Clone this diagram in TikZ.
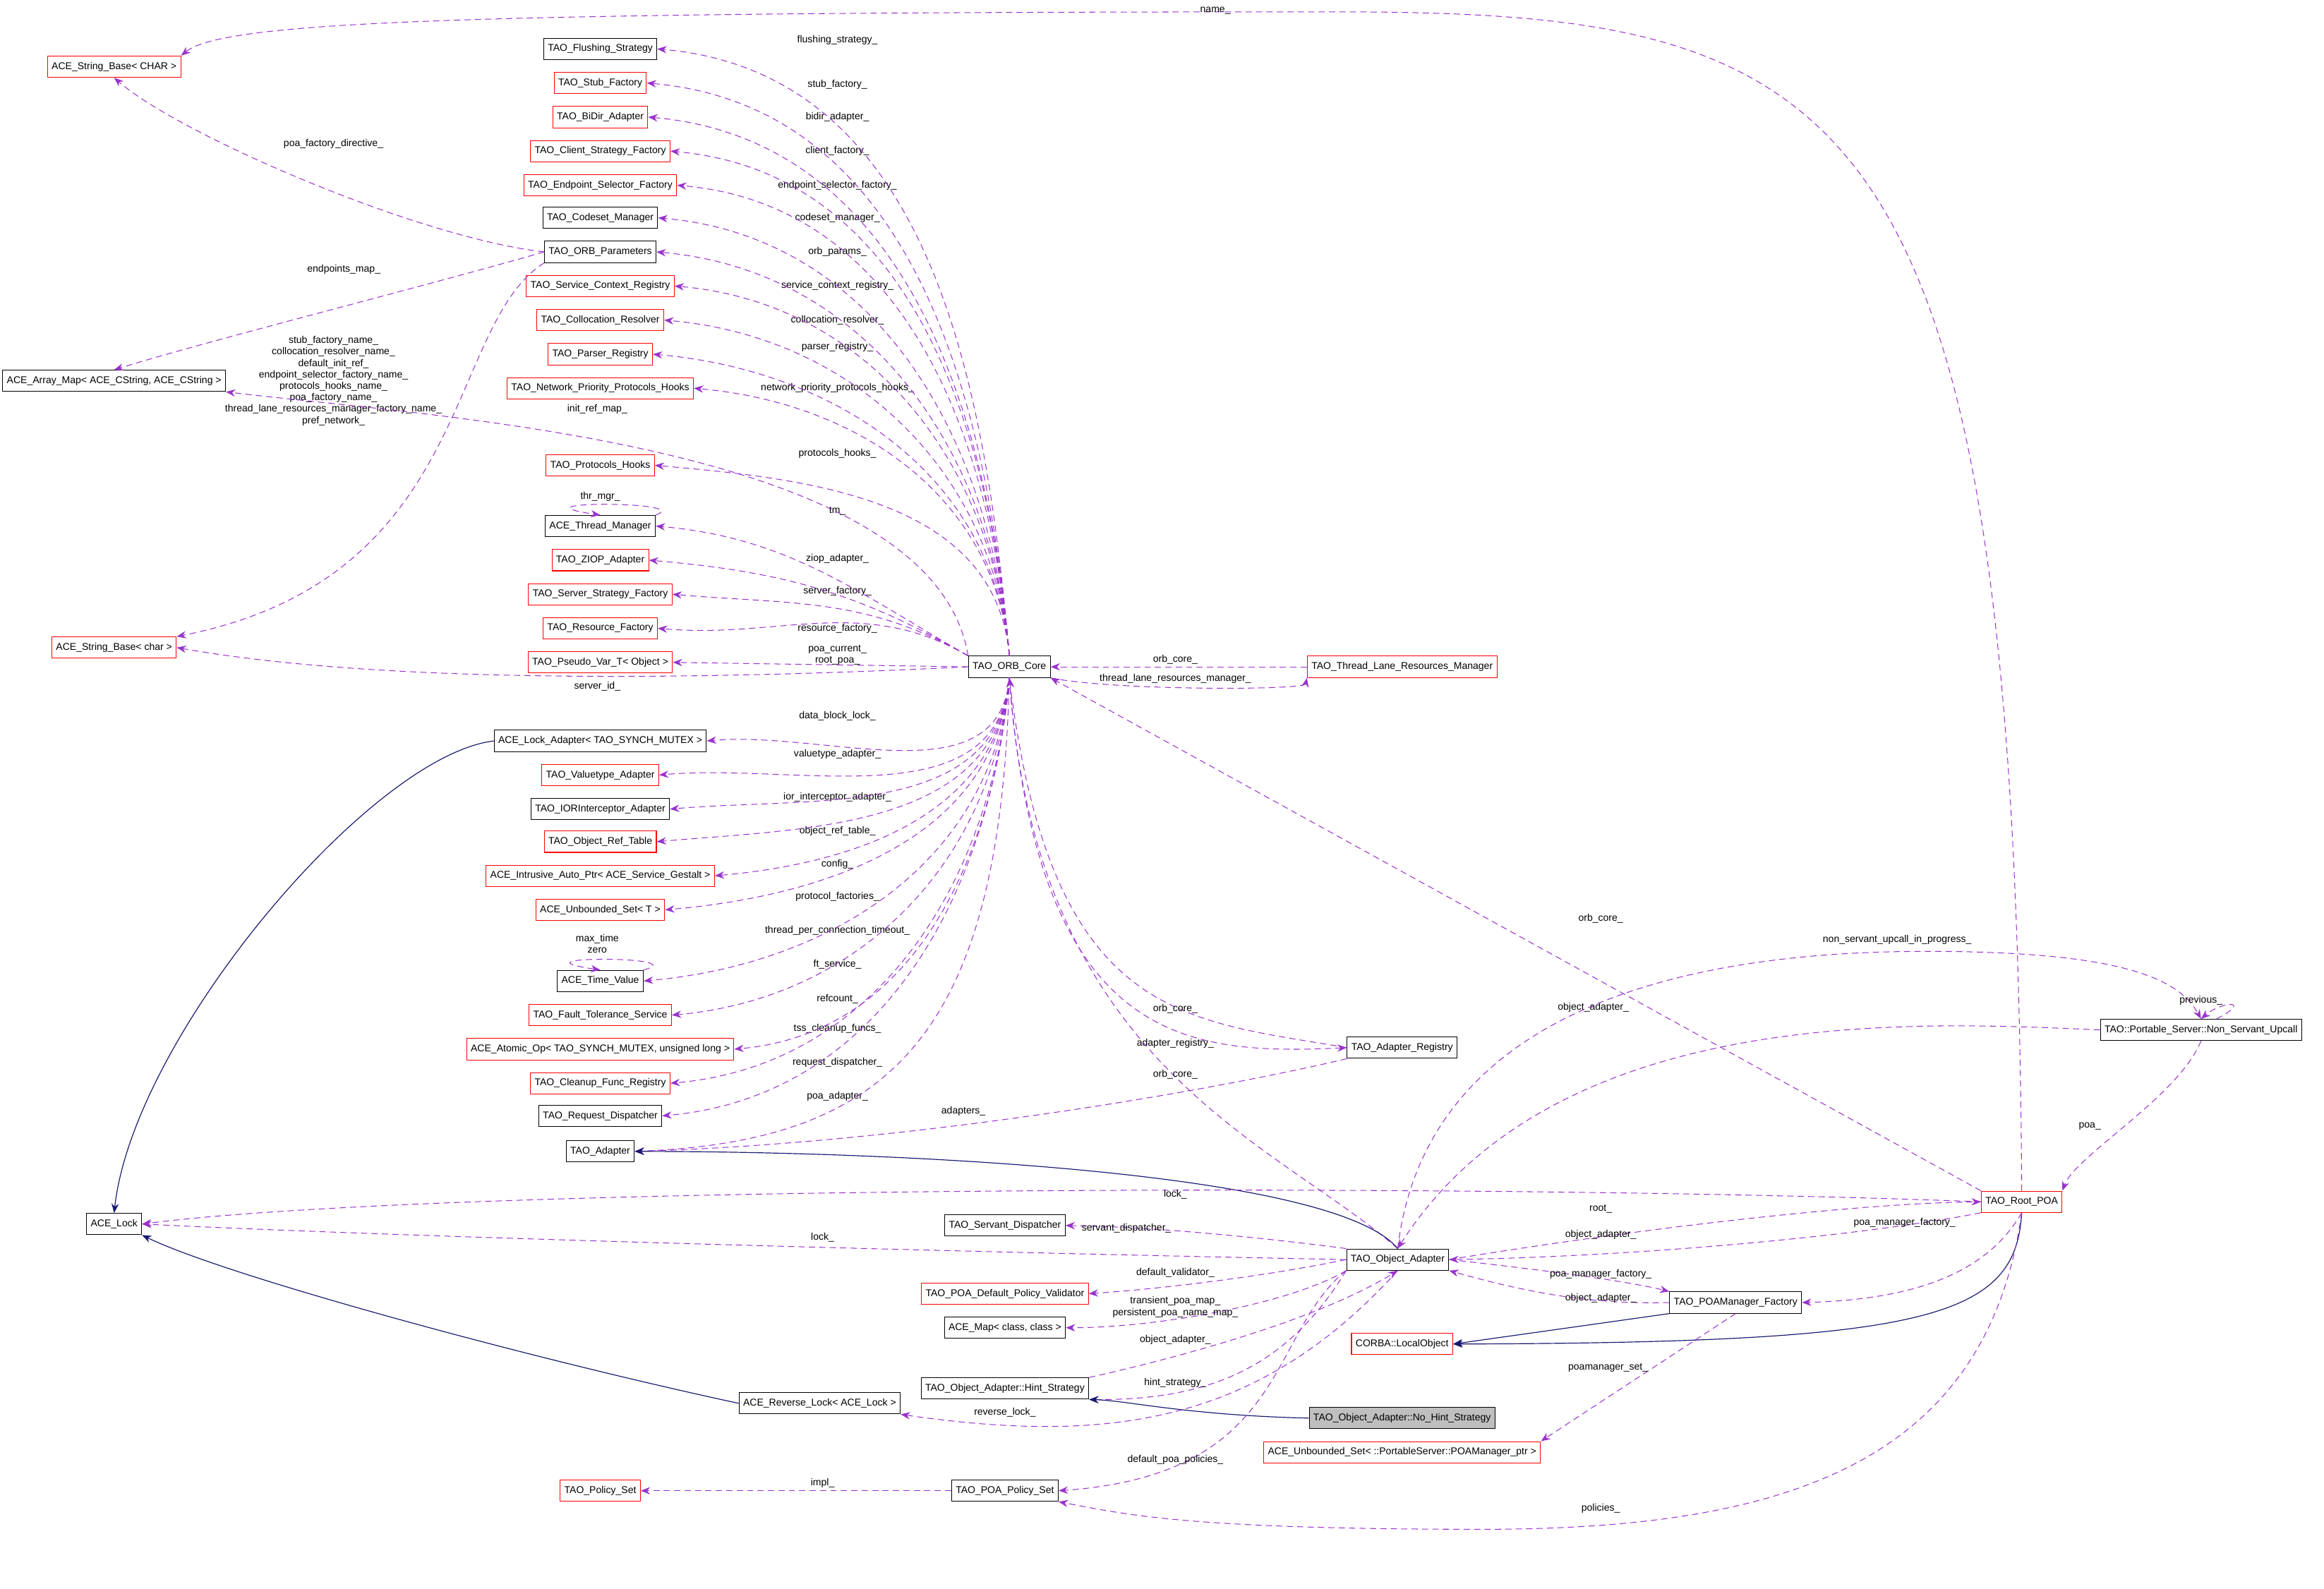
\documentclass[tikz,border=0pt]{standalone}
\usepackage{fontspec}
\setmainfont{Liberation Sans}
\usetikzlibrary{arrows.meta}

\begin{document}
\catcode`\_=12
\begin{tikzpicture}[x=0.05cm, y=-0.05cm, font=\fontsize{9.5}{11}\selectfont]
    % --- Colours and styles ---
    \definecolor{memcol}{RGB}{154,50,205}
    \definecolor{inhcol}{RGB}{25,25,112}
    \tikzset{
        cls/.style={draw=black, line width=0.7pt, inner xsep=4pt, minimum height=0.72cm},
        undoc/.style={cls, draw=red},
        focus/.style={cls, fill=gray!50},
        mem/.style={draw=memcol, line width=0.7pt, dash pattern=on 6pt off 4pt,
            -{Stealth[length=9pt, width=7pt]}, color=memcol},
        inh/.style={draw=inhcol, line width=0.8pt, -{Stealth[length=9pt, width=7pt]}, color=inhcol},
        lbl/.style={align=center, text=black, inner sep=1pt}
    }
    \useasboundingbox (0,0) rectangle (1568,1072.3);

    % =========================================================
    % 1. CENTRAL CLASS AND LEFT COLUMN
    % =========================================================
    \node[cls] (orb) at (681,450) {TAO_ORB_Core};

    \foreach \nm/\st/\y/\txt/\ly/\lb in {
        fs/cls/33/TAO_Flushing_Strategy/27/flushing_strategy_,
        sf/undoc/56/TAO_Stub_Factory/57/stub_factory_,
        bd/undoc/79/TAO_BiDir_Adapter/79/bidir_adapter_,
        csf/undoc/102/TAO_Client_Strategy_Factory/102/client_factory_,
        esf/undoc/125/TAO_Endpoint_Selector_Factory/125/endpoint_selector_factory_,
        cm/cls/147/TAO_Codeset_Manager/147/codeset_manager_,
        op/cls/170/TAO_ORB_Parameters/170/orb_params_,
        scr/undoc/193/TAO_Service_Context_Registry/193/service_context_registry_,
        cr/undoc/216/TAO_Collocation_Resolver/216/collocation_resolver_,
        pr/undoc/239/TAO_Parser_Registry/234/parser_registry_,
        nph/undoc/262/TAO_Network_Priority_Protocols_Hooks/262/network_priority_protocols_hooks_,
        ph/undoc/314/TAO_Protocols_Hooks/306/protocols_hooks_,
        tm/cls/355/ACE_Thread_Manager/345/tm_,
        zi/undoc/378/TAO_ZIOP_Adapter/377/ziop_adapter_,
        ssf/undoc/401/TAO_Server_Strategy_Factory/399/server_factory_,
        rf/undoc/424/TAO_Resource_Factory/424/resource_factory_,
        pv/undoc/447/{TAO_Pseudo_Var_T< Object >}/442/{poa_current_\\root_poa_},
        la/cls/500/{ACE_Lock_Adapter< TAO_SYNCH_MUTEX >}/483/data_block_lock_,
        va/undoc/523/TAO_Valuetype_Adapter/509/valuetype_adapter_,
        ior/cls/546/TAO_IORInterceptor_Adapter/538/ior_interceptor_adapter_,
        ort/undoc/568/TAO_Object_Ref_Table/561/object_ref_table_,
        iap/undoc/591/{ACE_Intrusive_Auto_Ptr< ACE_Service_Gestalt >}/583/config_,
        ust/undoc/614/{ACE_Unbounded_Set< T >}/605/protocol_factories_,
        tv/cls/662/ACE_Time_Value/628/thread_per_connection_timeout_,
        ft/undoc/685/TAO_Fault_Tolerance_Service/651/ft_service_,
        ao/undoc/708/{ACE_Atomic_Op< TAO_SYNCH_MUTEX, unsigned long >}/674/refcount_,
        cf/undoc/731/TAO_Cleanup_Func_Registry/694/tss_cleanup_funcs_,
        rd/cls/753/TAO_Request_Dispatcher/717/request_dispatcher_,
        ad/cls/777/TAO_Adapter/740/poa_adapter_}
    {
        \node[\st] (\nm) at (405,\y) {\txt};
        \node[lbl] at (565,\ly) {\lb};
    }

    % ORB core members
    \foreach \nm in {fs,sf,bd,csf,esf,cm,op,scr,cr,pr,nph,ph}
        \draw[mem] (orb.north) to[out=95, in=-5] (\nm.east);
    \foreach \nm in {tm,zi,ssf,rf}
        \draw[mem] (orb.north west) to[out=150, in=-5] (\nm.east);
    \draw[mem] (orb.west) -- (pv.east);
    \foreach \nm in {la,va,ior,ort,iap,ust,tv,ft,ao,cf,rd}
        \draw[mem] (orb.south) to[out=-95, in=5] (\nm.east);
    \draw[mem] (orb.south) .. controls (675,700) and (600,770) .. (ad.east);

    % =========================================================
    % 2. FAR LEFT CLASSES
    % =========================================================
    \node[undoc] (sbC) at (77,45) {ACE_String_Base< CHAR >};
    \node[cls] (am) at (77,257) {ACE_Array_Map< ACE_CString, ACE_CString >};
    \node[undoc] (sbc) at (77,437) {ACE_String_Base< char >};
    \node[cls] (lock) at (77,826) {ACE_Lock};

    \draw[mem] (op.west) .. controls (280,160) and (120,90) .. (sbC.south);
    \node[lbl] at (225,97) {poa_factory_directive_};
    \draw[mem] (op.west) .. controls (280,195) and (140,230) .. (am.north);
    \node[lbl] at (232,182) {endpoints_map_};
    \draw[mem] (op.south west) .. controls (300,220) and (320,390) .. (sbc.north east);
    \node[lbl] at (225,257) {stub_factory_name_\\collocation_resolver_name_\\default_init_ref_\\
        endpoint_selector_factory_name_\\protocols_hooks_name_\\poa_factory_name_\\
        thread_lane_resources_manager_factory_name_\\pref_network_};
    \draw[mem] (orb.north west) .. controls (630,300) and (300,282) .. (am.south east);
    \node[lbl] at (403,276) {init_ref_map_};
    \draw[mem] (orb.west) .. controls (450,460) and (250,460) .. (sbc.east);
    \node[lbl] at (403,463) {server_id_};

    % self references
    \draw[mem] (tm.north east) .. controls (470,338) and (340,338) .. (tm.north);
    \node[lbl] at (405,335) {thr_mgr_};
    \draw[mem] (tv.north east) .. controls (470,645) and (340,645) .. (tv.north);
    \node[lbl] at (403,637) {max_time\\zero};

    % inheritance into ACE_Lock
    \draw[inh] (la.west) .. controls (250,510) and (90,700) .. (lock.north);

    % =========================================================
    % 3. RIGHT SIDE CLASSES
    % =========================================================
    \node[undoc] (tl) at (946,450) {TAO_Thread_Lane_Resources_Manager};
    \node[cls] (ar) at (946,707) {TAO_Adapter_Registry};
    \node[cls] (sd) at (678,827) {TAO_Servant_Dispatcher};
    \node[cls] (oa) at (943,850) {TAO_Object_Adapter};
    \node[undoc] (val) at (678,873) {TAO_POA_Default_Policy_Validator};
    \node[cls] (map) at (678,896) {ACE_Map< class, class >};
    \node[cls] (hs) at (678,937) {TAO_Object_Adapter::Hint_Strategy};
    \node[cls] (rl) at (553,947) {ACE_Reverse_Lock< ACE_Lock >};
    \node[focus] (nh) at (946,957) {TAO_Object_Adapter::No_Hint_Strategy};
    \node[undoc] (us) at (946,980) {ACE_Unbounded_Set< ::PortableServer::POAManager_ptr >};
    \node[cls] (pps) at (678,1006) {TAO_POA_Policy_Set};
    \node[undoc] (ps) at (405,1006) {TAO_Policy_Set};
    \node[cls] (pmf) at (1171,879) {TAO_POAManager_Factory};
    \node[undoc] (lo) at (946,907) {CORBA::LocalObject};
    \node[undoc] (rp) at (1364,811) {TAO_Root_POA};
    \node[cls] (nsu) at (1485,695) {TAO::Portable_Server::Non_Servant_Upcall};

    % thread lane resources
    \draw[mem] (tl.west) -- (orb.east);
    \node[lbl] at (793,445) {orb_core_};
    \draw[mem] (orb.south east) .. controls (750,466) and (880,466) .. (tl.south west);
    \node[lbl] at (793,458) {thread_lane_resources_manager_};

    % adapter registry
    \draw[mem] (ar.west) .. controls (800,688) and (710,690) .. (orb.south);
    \node[lbl] at (793,681) {orb_core_};
    \draw[mem] (orb.south) .. controls (700,705) and (800,712) .. (ar.west);
    \node[lbl] at (793,704) {adapter_registry_};
    \draw[mem] (ar.south west) .. controls (800,740) and (600,772) .. (ad.east);
    \node[lbl] at (650,750) {adapters_};

    % object adapter
    \draw[mem] (oa.north) .. controls (860,770) and (700,720) .. (orb.south);
    \node[lbl] at (793,725) {orb_core_};
    \draw[inh] (oa.north) .. controls (900,790) and (600,777) .. (ad.east);
    \draw[mem] (oa.north west) .. controls (850,835) and (780,828) .. (sd.east);
    \node[lbl] at (760,829) {servant_dispatcher_};
    \draw[mem] (oa.west) .. controls (700,846) and (300,836) .. (lock.east);
    \node[lbl] at (555,835) {lock_};
    \draw[mem] (oa.west) .. controls (850,862) and (780,870) .. (val.east);
    \node[lbl] at (793,859) {default_validator_};
    \draw[mem] (oa.south west) .. controls (870,880) and (780,896) .. (map.east);
    \node[lbl] at (793,882) {transient_poa_map_\\persistent_poa_name_map_};
    \draw[mem] (hs.north east) .. controls (800,915) and (890,890) .. (oa.south);
    \node[lbl] at (793,904) {object_adapter_};
    \draw[mem] (oa.south west) .. controls (870,920) and (820,945) .. (hs.south east);
    \node[lbl] at (793,933) {hint_strategy_};
    \draw[inh] (nh.west) .. controls (800,955) and (760,945) .. (hs.south east);
    \draw[mem] (oa.south) .. controls (850,960) and (750,975) .. (rl.south east);
    \node[lbl] at (678,953) {reverse_lock_};
    \draw[mem] (oa.south west) .. controls (855,900) and (870,995) .. (pps.east);
    \node[lbl] at (793,985) {default_poa_policies_};
    \draw[inh] (rl.west) .. controls (350,915) and (150,860) .. (lock.south east);
    \draw[mem] (pps.west) -- (ps.east);
    \node[lbl] at (555,1001) {impl_};

    % POA manager factory
    \draw[mem] (oa.east) .. controls (1050,858) and (1100,865) .. (pmf.north west);
    \node[lbl] at (1080,860) {poa_manager_factory_};
    \draw[mem] (pmf.west) .. controls (1080,880) and (1040,875) .. (oa.south east);
    \node[lbl] at (1080,876) {object_adapter_};
    \draw[inh] (pmf.south west) -- (lo.east);
    \draw[mem] (pmf.south) -- (us.north east);
    \node[lbl] at (1085,923) {poamanager_set_};

    % root POA
    \draw[mem] (rp.north) .. controls (1360,60) and (1250,8) .. (900,8)
        .. controls (300,8) and (150,15) .. (sbC.north east);
    \node[lbl] at (820,7) {name_};
    \draw[mem] (rp.north west) -- (orb.south east);
    \node[lbl] at (1080,620) {orb_core_};
    \draw[mem] (rp.west) .. controls (1000,798) and (300,800) .. (lock.east);
    \node[lbl] at (793,806) {lock_};
    \draw[mem] (oa.east) .. controls (1100,830) and (1250,812) .. (rp.west);
    \node[lbl] at (1080,816) {root_};
    \draw[mem] (rp.south west) .. controls (1250,835) and (1100,848) .. (oa.east);
    \node[lbl] at (1080,833) {object_adapter_};
    \draw[mem] (rp.south) .. controls (1340,860) and (1290,877) .. (pmf.east);
    \node[lbl] at (1285,825) {poa_manager_factory_};
    \draw[inh] (rp.south) .. controls (1360,890) and (1300,906) .. (lo.east);
    \draw[mem] (rp.south) .. controls (1340,990) and (1200,1032) .. (1000,1032)
        .. controls (800,1032) and (760,1022) .. (pps.south east);
    \node[lbl] at (1080,1018) {policies_};

    % non servant upcall
    \draw[mem] (nsu.west) .. controls (1300,690) and (1050,675) .. (oa.north);
    \node[lbl] at (1075,680) {object_adapter_};
    \draw[mem] (oa.north) .. controls (960,700) and (1100,642) .. (1300,642)
        .. controls (1430,642) and (1470,660) .. (nsu.north);
    \node[lbl] at (1280,634) {non_servant_upcall_in_progress_};
    \draw[mem] ([xshift=15pt]nsu.north) .. controls (1520,675) and (1500,675) .. (nsu.north);
    \node[lbl] at (1485,675) {previous_};
    \draw[mem] (nsu.south) .. controls (1470,740) and (1400,780) .. (rp.north east);
    \node[lbl] at (1410,760) {poa_};
\end{tikzpicture}
\end{document}
